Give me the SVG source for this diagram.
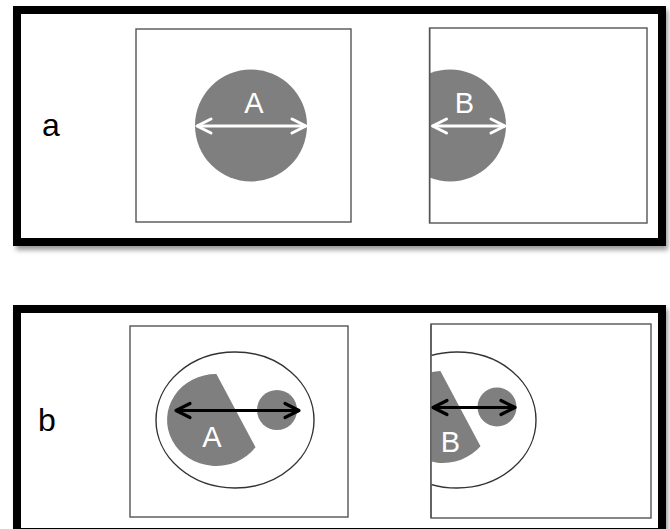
<svg xmlns="http://www.w3.org/2000/svg" width="670" height="529" viewBox="0 0 670 529">
<style>
.frame{fill:#fff;stroke:#000;stroke-width:8}
.shadow{fill:#9a9a9a;filter:url(#blur)}
.box{fill:#fff;stroke:#555;stroke-width:1.4}
.blob{fill:#7f7f7f}
.ring{fill:#fff;stroke:#333;stroke-width:1.4}
.wline{stroke:#fff;stroke-width:3;fill:none;marker-start:url(#chevW);marker-end:url(#chevW)}
.bline{stroke:#000;stroke-width:3;fill:none;marker-start:url(#chevB);marker-end:url(#chevB)}
.lbl{font-family:"Liberation Sans",Arial,sans-serif;font-size:32px;fill:#000;text-anchor:middle}
.in{font-family:"Liberation Sans",Arial,sans-serif;font-size:29px;fill:#fff;text-anchor:middle}
</style>
<defs>
<filter id="blur" x="-5%" y="-5%" width="110%" height="110%"><feGaussianBlur stdDeviation="2.5"/></filter>
<marker id="chevW" markerUnits="userSpaceOnUse" viewBox="-20 -12 24 24" markerWidth="24" markerHeight="24" refX="0" refY="0" orient="auto-start-reverse">
<path d="M-14,-7 L0,0 L-14,7" fill="none" stroke="#fff" stroke-width="3" stroke-linecap="round" stroke-linejoin="round"/>
</marker>
<marker id="chevB" markerUnits="userSpaceOnUse" viewBox="-20 -12 24 24" markerWidth="24" markerHeight="24" refX="0" refY="0" orient="auto-start-reverse">
<path d="M-14,-7 L0,0 L-14,7" fill="none" stroke="#000" stroke-width="3.2" stroke-linecap="round" stroke-linejoin="round"/>
</marker>
<clipPath id="clipA2"><rect x="430" y="28" width="217" height="195"/></clipPath>
<clipPath id="clipB2"><rect x="431.5" y="324" width="220" height="194"/></clipPath>
</defs>

<g id="panel-a">
<rect class="shadow" x="16" y="10" width="652" height="240"/>
<rect class="frame" x="17" y="10" width="645" height="232"/>
<text class="lbl" x="51" y="136">a</text>
</g>

<g id="a-left">
<rect class="box" x="136" y="29" width="215" height="193"/>
<circle class="blob" cx="251" cy="125.5" r="56"/>
<text class="in" x="254" y="113">A</text>
</g>

<g id="a-right">
<rect class="box" x="429.5" y="28" width="217.5" height="195"/>
<circle class="blob" cx="450" cy="125.5" r="56" clip-path="url(#clipA2)"/>
<rect x="429" y="28" width="1.4" height="195" fill="#555"/>
<text class="in" x="464.5" y="113">B</text>
</g>

<g id="panel-b">
<rect class="shadow" x="16" y="309" width="652" height="228"/>
<rect class="frame" x="17" y="309" width="645" height="223"/>
<text class="lbl" x="47" y="431">b</text>
</g>

<g id="b-left">
<rect class="box" x="130" y="326" width="218" height="191"/>
<ellipse class="ring" cx="235" cy="420" rx="79" ry="68"/>
<path class="blob" d="M216.4,374 A49,46 0 1,0 255.5,447.3 Z"/>
<circle class="blob" cx="277" cy="410" r="20"/>
<text class="in" x="212" y="447">A</text>
</g>

<g id="b-right">
<rect class="box" x="431" y="324" width="220" height="194"/>
<g clip-path="url(#clipB2)">
<ellipse class="ring" cx="457" cy="420" rx="79" ry="68"/>
<path class="blob" d="M440.4,371 A49,46 0 1,0 480.5,446.3 Z"/>
</g>
<rect x="430.3" y="324" width="1.4" height="194" fill="#555"/>
<circle class="blob" cx="497" cy="407" r="19.5"/>
<text class="in" x="450.5" y="452">B</text>
</g>

<g id="connectors">
<line class="wline" x1="197" y1="126" x2="306" y2="126"/>
<line class="wline" x1="432.5" y1="126" x2="505" y2="126"/>
<line class="bline" x1="176" y1="410.5" x2="299" y2="410.5"/>
<line class="bline" x1="433" y1="407.5" x2="515" y2="407.5"/>
</g>
</svg>
